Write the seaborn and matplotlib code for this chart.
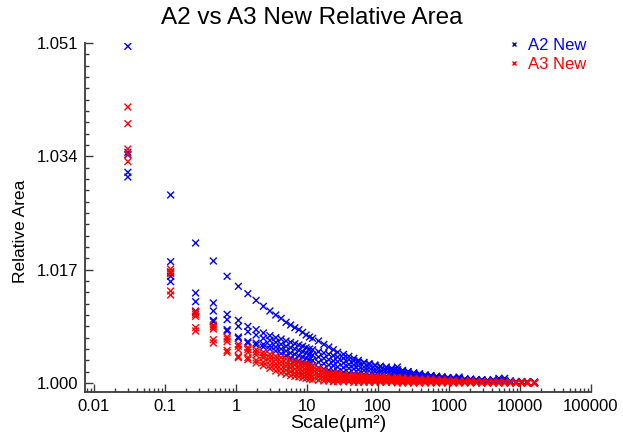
import matplotlib
matplotlib.use("Agg")
import matplotlib.pyplot as plt
import pandas as pd
import seaborn as sns
from matplotlib.ticker import FixedLocator, FixedFormatter, LogLocator, NullFormatter

# Scale of each measurement (um^2)
scale_um2 = [
    0.03, 0.12, 0.27, 0.48, 0.75, 1.08, 1.47, 1.92, 2.43, 3.00,
    3.63, 4.32, 5.07, 5.88, 6.75, 7.68, 8.67, 9.72, 10.83, 12.00,
    14.52, 17.28, 20.28, 23.52, 27.00, 32.67, 38.88, 45.63, 52.92, 63.48,
    75.00, 90.75, 108.0, 130.68, 155.52, 187.23, 221.88, 265.08, 318.27, 383.07,
    461.28, 554.88, 666.03, 797.07, 961.23, 1152.48, 1386.75, 1670.88, 2012.43, 2419.68,
    2901.63, 3488.43, 4196.28, 5043.0, 6075.0, 7291.47, 8780.43, 10549.47, 12675.0, 15987.0,
]

# A2 New relative area, one list per profile
a2_p1 = [
    1.0505, 1.0282, 1.0210, 1.0183, 1.0160, 1.0145, 1.0134, 1.0124, 1.0115, 1.0108,
    1.0102, 1.0097, 1.0091, 1.0087, 1.0083, 1.0080, 1.0076, 1.0072, 1.0069, 1.0067,
    1.0063, 1.0058, 1.0054, 1.0050, 1.0046, 1.0043, 1.0040, 1.0037, 1.0034, 1.0031,
    1.0029, 1.0027, 1.0025, 1.0024, 1.0022, 1.0024, 1.0019, 1.0017, 1.0015, 1.0013,
    1.0012, 1.0011, 1.0010, 1.0009, 1.0008, 1.0008, 1.0009, 1.0006, 1.0005, 1.0005,
    1.0004, 1.0004, 1.0005, 1.0007, 1.0007, 1.0003, 1.0002, 1.0002, 1.0001, 1.0001,
]
a2_p2 = [
    1.0346, 1.0182, 1.0135, 1.0120, 1.0103, 1.0094, 1.0085, 1.0080, 1.0075, 1.0071,
    1.0068, 1.0066, 1.0063, 1.0061, 1.0059, 1.0057, 1.0055, 1.0053, 1.0051, 1.0050,
    1.0047, 1.0045, 1.0043, 1.0041, 1.0039, 1.0037, 1.0035, 1.0033, 1.0031, 1.0030,
    1.0028, 1.0026, 1.0025, 1.0023, 1.0021, 1.0020, 1.0018, 1.0017, 1.0015, 1.0014,
    1.0012, 1.0011, 1.0010, 1.0009, 1.0008, 1.0007, 1.0007, 1.0006, 1.0006, 1.0005,
    1.0005, 1.0004, 1.0004, 1.0004, 1.0004, 1.0003, 1.0002, 1.0002, 1.0002, 1.0001,
]
a2_p3 = [
    1.0342, 1.0166, 1.0122, 1.0108, 1.0095, 1.0085, 1.0077, 1.0072, 1.0067, 1.0064,
    1.0061, 1.0058, 1.0055, 1.0053, 1.0051, 1.0049, 1.0047, 1.0045, 1.0043, 1.0042,
    1.0039, 1.0037, 1.0035, 1.0033, 1.0032, 1.0030, 1.0028, 1.0027, 1.0026, 1.0024,
    1.0023, 1.0021, 1.0020, 1.0019, 1.0018, 1.0017, 1.0015, 1.0014, 1.0013, 1.0012,
    1.0011, 1.0010, 1.0009, 1.0008, 1.0007, 1.0006, 1.0006, 1.0005, 1.0005, 1.0004,
    1.0004, 1.0004, 1.0003, 1.0003, 1.0003, 1.0002, 1.0002, 1.0001, 1.0001, 1.0001,
]
a2_p4 = [
    1.0316, 1.0160, 1.0108, 1.0094, 1.0080, 1.0069, 1.0062, 1.0060, 1.0058, 1.0056,
    1.0054, 1.0051, 1.0048, 1.0045, 1.0043, 1.0041, 1.0039, 1.0037, 1.0035, 1.0034,
    1.0031, 1.0029, 1.0027, 1.0026, 1.0024, 1.0023, 1.0022, 1.0021, 1.0020, 1.0019,
    1.0018, 1.0017, 1.0016, 1.0015, 1.0014, 1.0013, 1.0012, 1.0011, 1.0010, 1.0010,
    1.0009, 1.0008, 1.0007, 1.0007, 1.0006, 1.0005, 1.0005, 1.0004, 1.0004, 1.0003,
    1.0003, 1.0003, 1.0003, 1.0002, 1.0002, 1.0002, 1.0001, 1.0001, 1.0001, 1.0000,
]
a2_p5 = [
    1.0309, 1.0152, 1.0106, 1.0092, 1.0078, 1.0067, 1.0060, 1.0057, 1.0054, 1.0051,
    1.0048, 1.0044, 1.0041, 1.0038, 1.0035, 1.0033, 1.0031, 1.0029, 1.0027, 1.0026,
    1.0023, 1.0021, 1.0019, 1.0018, 1.0017, 1.0016, 1.0015, 1.0014, 1.0014, 1.0013,
    1.0012, 1.0012, 1.0011, 1.0010, 1.0010, 1.0009, 1.0009, 1.0008, 1.0008, 1.0007,
    1.0007, 1.0006, 1.0006, 1.0005, 1.0005, 1.0004, 1.0004, 1.0003, 1.0003, 1.0003,
    1.0002, 1.0002, 1.0002, 1.0002, 1.0002, 1.0001, 1.0001, 1.0001, 1.0000, 1.0000,
]

# A3 New relative area, one list per profile
a3_p1 = [
    1.0414, 1.0171, 1.0107, 1.0087, 1.0069, 1.0058, 1.0053, 1.0050, 1.0046, 1.0043,
    1.0040, 1.0038, 1.0036, 1.0034, 1.0032, 1.0031, 1.0029, 1.0028, 1.0026, 1.0025,
    1.0022, 1.0019, 1.0016, 1.0015, 1.0014, 1.0013, 1.0012, 1.0012, 1.0011, 1.0011,
    1.0010, 1.0010, 1.0009, 1.0009, 1.0008, 1.0008, 1.0008, 1.0007, 1.0007, 1.0006,
    1.0006, 1.0006, 1.0005, 1.0005, 1.0004, 1.0004, 1.0003, 1.0003, 1.0003, 1.0002,
    1.0002, 1.0002, 1.0002, 1.0002, 1.0002, 1.0001, 1.0001, 1.0001, 1.0001, 1.0001,
]
a3_p2 = [
    1.0389, 1.0167, 1.0103, 1.0084, 1.0066, 1.0055, 1.0050, 1.0046, 1.0042, 1.0038,
    1.0035, 1.0032, 1.0030, 1.0028, 1.0027, 1.0025, 1.0024, 1.0023, 1.0021, 1.0020,
    1.0018, 1.0015, 1.0013, 1.0012, 1.0011, 1.0010, 1.0010, 1.0009, 1.0009, 1.0008,
    1.0008, 1.0008, 1.0007, 1.0007, 1.0006, 1.0006, 1.0006, 1.0005, 1.0005, 1.0005,
    1.0004, 1.0004, 1.0004, 1.0003, 1.0003, 1.0003, 1.0002, 1.0002, 1.0002, 1.0002,
    1.0002, 1.0001, 1.0001, 1.0001, 1.0001, 1.0001, 1.0001, 1.0001, 1.0001, 1.0000,
]
a3_p3 = [
    1.0351, 1.0164, 1.0100, 1.0081, 1.0062, 1.0050, 1.0046, 1.0042, 1.0038, 1.0033,
    1.0029, 1.0027, 1.0025, 1.0023, 1.0021, 1.0020, 1.0018, 1.0017, 1.0016, 1.0015,
    1.0013, 1.0011, 1.0010, 1.0009, 1.0008, 1.0007, 1.0007, 1.0007, 1.0006, 1.0006,
    1.0006, 1.0005, 1.0005, 1.0005, 1.0004, 1.0004, 1.0004, 1.0004, 1.0003, 1.0003,
    1.0003, 1.0003, 1.0002, 1.0002, 1.0002, 1.0002, 1.0002, 1.0001, 1.0001, 1.0001,
    1.0001, 1.0001, 1.0001, 1.0001, 1.0001, 1.0001, 1.0000, 1.0000, 1.0000, 1.0000,
]
a3_p4 = [
    1.0343, 1.0138, 1.0083, 1.0065, 1.0049, 1.0040, 1.0038, 1.0034, 1.0031, 1.0027,
    1.0024, 1.0021, 1.0019, 1.0017, 1.0015, 1.0014, 1.0013, 1.0012, 1.0011, 1.0010,
    1.0009, 1.0007, 1.0006, 1.0005, 1.0005, 1.0005, 1.0004, 1.0004, 1.0004, 1.0003,
    1.0003, 1.0003, 1.0003, 1.0003, 1.0002, 1.0002, 1.0002, 1.0002, 1.0002, 1.0002,
    1.0001, 1.0001, 1.0001, 1.0001, 1.0001, 1.0001, 1.0001, 1.0001, 1.0001, 1.0001,
    1.0000, 1.0000, 1.0000, 1.0000, 1.0000, 1.0000, 1.0000, 1.0000, 1.0000, 1.0000,
]
a3_p5 = [
    1.0332, 1.0132, 1.0078, 1.0060, 1.0046, 1.0038, 1.0035, 1.0030, 1.0026, 1.0022,
    1.0018, 1.0015, 1.0013, 1.0011, 1.0010, 1.0009, 1.0008, 1.0007, 1.0006, 1.0005,
    1.0004, 1.0003, 1.0003, 1.0002, 1.0002, 1.0002, 1.0002, 1.0001, 1.0001, 1.0001,
    1.0001, 1.0001, 1.0001, 1.0001, 1.0001, 1.0000, 1.0000, 1.0000, 1.0000, 1.0000,
    1.0000, 1.0000, 1.0000, 1.0000, 1.0000, 1.0000, 1.0000, 1.0000, 1.0000, 1.0000,
    1.0000, 1.0000, 1.0000, 1.0000, 1.0000, 1.0000, 1.0000, 1.0000, 1.0000, 1.0000,
]

series_names = ["A2 New", "A3 New"]
series_colors = ["#0000ff", "#ff0000"]
y_ticks = [1.000, 1.017, 1.034, 1.051]
x_ticks = [0.01, 0.1, 1, 10, 100, 1000, 10000, 100000]
x_tick_labels = ["0.01", "0.1", "1", "10", "100", "1000", "10000", "100000"]

profiles = {"A2 New": [a2_p1, a2_p2, a2_p3, a2_p4, a2_p5],
            "A3 New": [a3_p1, a3_p2, a3_p3, a3_p4, a3_p5]}
records = []
for name in series_names:
    for values in profiles[name]:
        for s, v in zip(scale_um2, values):
            records.append({"Scale": s, "Relative Area": v, "Series": name})
df = pd.DataFrame(records)

sns.set_style("white")
plt.rcParams["font.family"] = ["Liberation Sans", "DejaVu Sans"]
plt.rcParams["text.color"] = "black"
plt.rcParams["axes.labelcolor"] = "black"

fig = plt.figure(figsize=(6.23, 4.40), dpi=100)
ax = fig.add_axes([85 / 623, 48 / 440, 506 / 623, 349 / 440])

sns.scatterplot(data=df, x="Scale", y="Relative Area", hue="Series",
                hue_order=series_names, palette=dict(zip(series_names, series_colors)),
                marker="x", s=24, linewidth=1.0, ax=ax, legend=True)

ax.set_xscale("log")
ax.set_xlim(0.00747, 100000)
ax.set_ylim(0.99865, 1.051)

# Ten minor divisions between neighbouring major y ticks
minor_step = (y_ticks[1] - y_ticks[0]) / 10
y_minor = [y_ticks[0] + k * minor_step for k in range(31)]

ax.xaxis.set_major_locator(FixedLocator(x_ticks))
ax.xaxis.set_major_formatter(FixedFormatter(x_tick_labels))
ax.xaxis.set_minor_locator(LogLocator(base=10, subs=range(2, 10), numticks=20))
ax.xaxis.set_minor_formatter(NullFormatter())
ax.yaxis.set_major_locator(FixedLocator(y_ticks))
ax.yaxis.set_major_formatter(FixedFormatter([f"{t:.3f}" for t in y_ticks]))
ax.yaxis.set_minor_locator(FixedLocator(y_minor))
ax.yaxis.set_minor_formatter(NullFormatter())

spine_color = "#3a3a3a"
for side in ["top", "right"]:
    ax.spines[side].set_visible(False)
for side in ["left", "bottom"]:
    ax.spines[side].set_color(spine_color)
    ax.spines[side].set_linewidth(1.3)
ax.tick_params(which="both", direction="in", bottom=True, left=True,
               top=False, right=False, color=spine_color, width=1.0,
               labelsize=12, labelcolor="black")
ax.tick_params(which="major", length=6)
ax.tick_params(which="minor", length=3)
ax.tick_params(axis="x", pad=5)
ax.tick_params(axis="y", pad=5)

ax.set_xlabel("Scale(\u03bcm\u00b2)", fontsize=14, labelpad=1, color="black")
ax.set_ylabel("Relative Area", fontsize=12.5, color="black")
ax.yaxis.set_label_coords(-0.112, 0.46)
fig.suptitle("A2 vs A3 New Relative Area", fontsize=17.5, x=0.5, y=0.983, color="black")

handles, labels = ax.get_legend_handles_labels()
leg = ax.legend(handles, labels, loc="upper right", bbox_to_anchor=(1.02, 1.058),
                frameon=False, fontsize=12, handletextpad=0.3, markerscale=0.7,
                labelspacing=0.25, handlelength=1.0)
for text, color in zip(leg.get_texts(), series_colors):
    text.set_color(color)

fig.savefig("out.png", dpi=100)
